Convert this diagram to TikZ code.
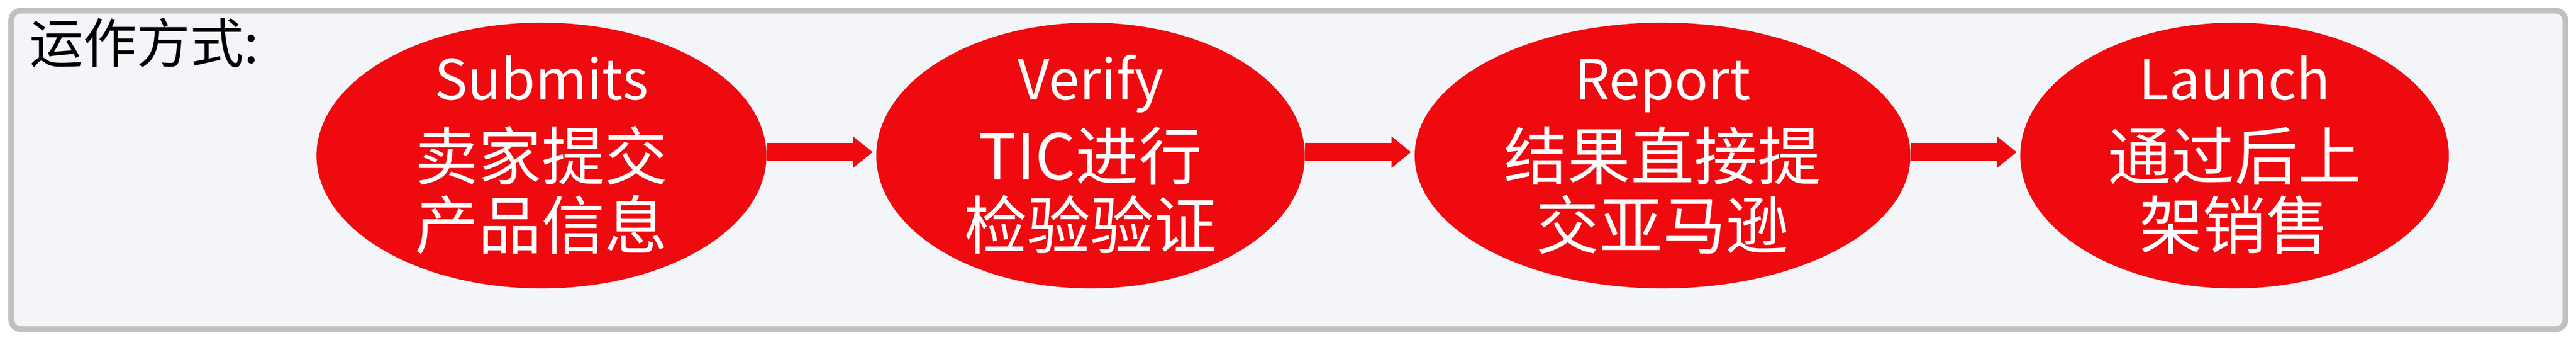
\documentclass[tikz,border=0pt]{standalone}
\usepackage{fontspec}
\setmainfont{Noto Sans CJK SC}
\usepackage{xcolor}
\usepackage{tikz}
\usetikzlibrary{shapes.geometric, arrows.meta, positioning}
\definecolor{redfill}{RGB}{238,10,14}
\definecolor{framegray}{RGB}{192,192,192}
\definecolor{framefill}{RGB}{243,245,249}
\newcommand{\entitle}[1]{{\fontsize{28.5pt}{35.5pt}\selectfont #1}}
\tikzstyle{stage} = [ellipse, fill=redfill, text=white, inner sep=0pt, minimum height=136.25pt, text height=96pt, text depth=-2pt, align=center, font=\fontsize{32.5pt}{35.5pt}\selectfont]
\tikzstyle{arrow} = [draw=redfill, line width=9.25pt, -{Triangle[length=10pt,width=16.25pt,line width=0pt]}, shorten >=1.75pt]
\tikzstyle{frame} = [draw=framegray, fill=framefill, line width=3pt, rounded corners=5pt]

\begin{document}
\begin{tikzpicture}[node distance=56pt]
   \useasboundingbox (0,0) rectangle (1322.5pt,-174.25pt);
   \path [frame] (5.75pt,-5.5pt) rectangle (1317pt,-168.75pt);
   \node (title) [anchor=base west, inner sep=0pt, font=\fontsize{27.5pt}{30pt}\selectfont] at (15pt,-32.5pt) {运作方式:};
   \node (submit) [stage, minimum width=231pt] at (278pt,-79.75pt) {\entitle{Submits}\\[5.5pt] 卖家提交\\ 产品信息};
   \node (verify) [stage, minimum width=220pt, right=of submit] {\entitle{Verify}\\[5.5pt] TIC进行\\ 检验验证};
   \node (report) [stage, minimum width=254.5pt, right=of verify] {\entitle{Report}\\[5.5pt] 结果直接提\\ 交亚马逊};
   \node (launch) [stage, minimum width=220pt, right=of report] {\entitle{Launch}\\[5.5pt] 通过后上\\ 架销售};
   \draw [arrow] ([yshift=1.75pt]submit.east) -- ([yshift=1.75pt]verify.west);
   \draw [arrow] ([yshift=1.75pt]verify.east) -- ([yshift=1.75pt]report.west);
   \draw [arrow] ([yshift=1.75pt]report.east) -- ([yshift=1.75pt]launch.west);
\end{tikzpicture}
\end{document}
